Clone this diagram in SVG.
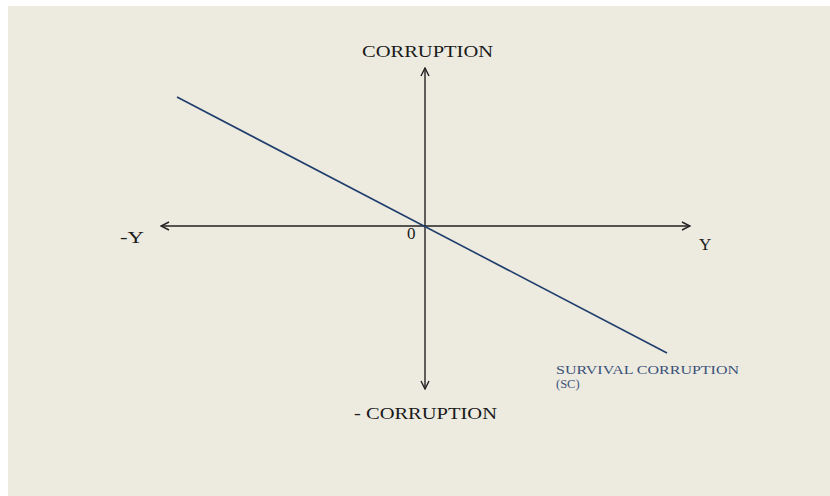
<svg xmlns="http://www.w3.org/2000/svg" width="830" height="496" viewBox="0 0 830 496">
<style>
.ax{stroke:#222;stroke-width:1.4;fill:none}
.t{font-family:"Liberation Serif",serif;fill:#1a1a1a;font-size:17px}
.sc{font-family:"Liberation Serif",serif;fill:#3b5279;font-size:12.5px}
</style>
<defs>
<marker id="arr" viewBox="0 0 10 10" refX="9" refY="5" markerWidth="10" markerHeight="10" markerUnits="userSpaceOnUse" orient="auto-start-reverse">
<path d="M1,1 L9,5 L1,9" fill="none" stroke="#222" stroke-width="1.4"/>
</marker>
</defs>
<rect x="0" y="0" width="830" height="496" fill="#ffffff"/>
<rect x="8" y="6" width="822" height="490" fill="#edeae0"/>
<g id="connectors">
<line id="v-axis" class="ax" x1="425" y1="68" x2="425" y2="389" marker-start="url(#arr)" marker-end="url(#arr)"/>
<line id="h-axis" class="ax" x1="161" y1="226" x2="690" y2="226" marker-start="url(#arr)" marker-end="url(#arr)"/>
<line id="sc-line" x1="177" y1="97" x2="667" y2="353" stroke="#1f3e6c" stroke-width="1.6"/>
</g>
<g id="label-corruption"><text class="t" x="362" y="57" textLength="131" lengthAdjust="spacingAndGlyphs">CORRUPTION</text></g>
<g id="label-neg-corruption"><text class="t" x="354" y="419" textLength="143" lengthAdjust="spacingAndGlyphs">- CORRUPTION</text></g>
<g id="label-neg-y"><text class="t" x="120" y="243" font-size="18" textLength="24" lengthAdjust="spacingAndGlyphs">-Y</text></g>
<g id="label-y"><text class="t" x="699" y="250" font-size="18">Y</text></g>
<g id="label-zero"><text class="t" x="407" y="239" font-size="16">0</text></g>
<g id="label-sc"><text class="sc" x="556" y="374" textLength="183" lengthAdjust="spacingAndGlyphs">SURVIVAL CORRUPTION</text><text class="sc" x="556" y="388">(SC)</text></g>
</svg>
